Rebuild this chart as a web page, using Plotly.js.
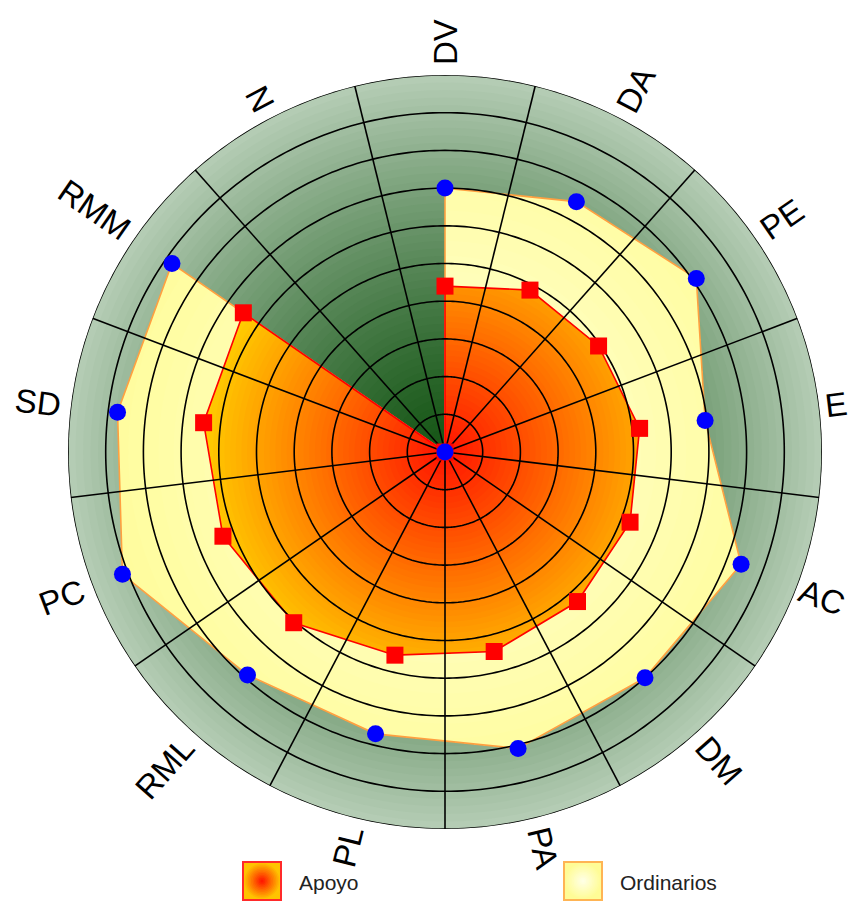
<!DOCTYPE html>
<html>
<head>
<meta charset="utf-8">
<script src="https://cdn.plot.ly/plotly-3.0.1.min.js"></script>
<style>html,body{margin:0;padding:0;background:#fff}#chart{width:850px;height:902px}</style>
</head>
<body>
<div id="chart"></div>
<script>
// ---- data ----
const categories = ['DV','DA','PE','E','AC','DM','PA','PL','RML','PC','SD','RMM','N'];
const ordinarios = [70, 75, 81, 69.5, 84, 80, 81, 77, 79, 91.5, 87.5, 88, 0];
const apoyo      = [44, 48.5, 49.5, 52, 52.5, 53, 54.5, 55.5, 60.5, 63, 64.5, 65, 0];
const radialTicks = [10, 20, 30, 40, 50, 60, 70, 80, 90, 100];
const seriesNames = ['Apoyo', 'Ordinarios'];

// ---- layout geometry ----
const W = 850, H = 902, CX = 445, CY = 452, R = 377;
const RMAX = 100;
const n = categories.length;
const step = 360 / n;
const thetas = categories.map((c, i) => i * step);
const rad = d => d * Math.PI / 180;
const rgb = (c) => 'rgb(' + c.map(v => Math.round(v)).join(',') + ')';
const lerp = (a, b, t) => a.map((v, i) => v + (b[i] - v) * t);

function greenAt(t) { return rgb(lerp([22, 86, 22], [182, 206, 182], Math.pow(t, 1.3))); }
function orangeAt(r) { return rgb([255, Math.min(205, 18 + 2.9 * r), 0]); }
function yellowAt(r) { return rgb(lerp([255, 255, 215], [255, 252, 150], r / RMAX)); }

// boundary of the data polygon clipped by a circle of radius L (polar coords)
function clipped(vals, L, sub) {
  const th = [], rr = [];
  for (let i = 0; i < n; i++) {
    const ta = thetas[i], tb = ta + step, ra = vals[i], rb = vals[(i + 1) % n];
    for (let k = 0; k < sub; k++) {
      const t = ta + step * k / sub;
      let r;
      if (k === 0) r = ra;
      else if (ra === 0 || rb === 0) r = 0;
      else r = ra * rb * Math.sin(rad(step)) / (ra * Math.sin(rad(t - ta)) + rb * Math.sin(rad(tb - t)));
      th.push(t); rr.push(Math.min(r, L));
    }
  }
  th.push(360); rr.push(Math.min(vals[0], L));
  return { th, rr };
}

const traces = [];
const base = { type: 'scatterpolar', hoverinfo: 'skip', showlegend: false };

// background radial gradient (green)
const NB = 50;
const circTh = []; for (let a = 0; a <= 360; a += 1) circTh.push(a);
for (let k = NB; k >= 1; k--) {
  const L = RMAX * k / NB;
  traces.push(Object.assign({}, base, {
    r: circTh.map(() => L), theta: circTh, mode: 'lines', fill: 'toself',
    fillcolor: greenAt((k - 0.5) / NB), line: { width: 0, color: 'rgba(0,0,0,0)' }
  }));
}

// Ordinarios fill (light yellow gradient)
for (let L = RMAX; L >= 4; L -= 4) {
  const b = clipped(ordinarios, L, 60);
  traces.push(Object.assign({}, base, {
    r: b.rr, theta: b.th, mode: 'lines', fill: 'toself',
    fillcolor: yellowAt(L - 2), line: { width: 0, color: 'rgba(0,0,0,0)' }
  }));
}
traces.push(Object.assign({}, base, {
  r: ordinarios.concat([ordinarios[0]]), theta: thetas.concat([360]), mode: 'lines',
  line: { color: '#ffa040', width: 1.6 }
}));

// Apoyo fill (red -> orange radial gradient)
const amax = Math.max.apply(null, apoyo);
for (let L = Math.ceil(amax) + 1; L >= 1.5; L -= 1.5) {
  const b = clipped(apoyo, L, 60);
  traces.push(Object.assign({}, base, {
    r: b.rr, theta: b.th, mode: 'lines', fill: 'toself',
    fillcolor: orangeAt(L - 0.75), line: { width: 0, color: 'rgba(0,0,0,0)' }
  }));
}
traces.push(Object.assign({}, base, {
  r: apoyo.concat([apoyo[0]]), theta: thetas.concat([360]), mode: 'lines',
  line: { color: '#ff0000', width: 1.6 }
}));

// grid rings
const ringR = [], ringT = [];
radialTicks.forEach(v => { circTh.forEach(a => { ringR.push(v); ringT.push(a); }); ringR.push(null); ringT.push(null); });
traces.push(Object.assign({}, base, { r: ringR, theta: ringT, mode: 'lines', connectgaps: false,
  line: { color: '#000', width: 1.6 } }));
// spokes (between categories)
const spR = [], spT = [];
thetas.forEach(t => { spR.push(0, RMAX, null); spT.push(t + step / 2, t + step / 2, null); });
traces.push(Object.assign({}, base, { r: spR, theta: spT, mode: 'lines', connectgaps: false,
  line: { color: '#000', width: 1.6 } }));

// markers
traces.push({ type: 'scatterpolar', name: seriesNames[0], r: apoyo, theta: thetas, mode: 'markers',
  marker: { symbol: 'square', size: 17, color: '#ff0000' }, showlegend: false });
traces.push({ type: 'scatterpolar', name: seriesNames[1], r: ordinarios, theta: thetas, mode: 'markers',
  marker: { symbol: 'circle', size: 17, color: '#0000ff' }, showlegend: false });

// angular labels as rotated annotations
const cv = document.createElement('canvas').getContext('2d');
const LABEL_SIZE = 33;
cv.font = LABEL_SIZE + 'px "Liberation Sans", Arial, sans-serif';
const annotations = categories.map((c, i) => {
  const t = thetas[i];
  const w = cv.measureText(c).width;
  const d = R + 10 + w / 2;
  let x = CX + d * Math.sin(rad(t));
  const y = CY - d * Math.cos(rad(t));
  const ang = t <= 180 ? t - 90 : t - 270;
  // keep the rotated glyph box inside the page
  const hcap = LABEL_SIZE * 0.74;
  const halfW = (w * Math.abs(Math.cos(rad(ang))) + hcap * Math.abs(Math.sin(rad(ang)))) / 2;
  if (x + halfW > W - 2) x = W - 2 - halfW;
  if (x - halfW < 2) x = 2 + halfW;
  return { text: c, x: x / W, y: 1 - y / H, xref: 'paper', yref: 'paper', showarrow: false,
    xanchor: 'center', yanchor: 'middle', textangle: ang,
    font: { family: '"Liberation Sans", Arial, sans-serif', size: LABEL_SIZE, color: '#000' } };
});

// custom legend
const shapes = [];
function swatch(x0, y0, s, edge, colorFn, border) {
  shapes.push({ type: 'rect', xref: 'paper', yref: 'paper', x0: x0 / W, x1: (x0 + s) / W,
    y0: 1 - (y0 + s) / H, y1: 1 - y0 / H, fillcolor: edge, line: { width: 0 } });
  const cx = x0 + s / 2, cy = y0 + s / 2;
  for (let k = 12; k >= 1; k--) {
    const rr = (s / 2) * k / 12;
    shapes.push({ type: 'circle', xref: 'paper', yref: 'paper', x0: (cx - rr) / W, x1: (cx + rr) / W,
      y0: 1 - (cy + rr) / H, y1: 1 - (cy - rr) / H, fillcolor: colorFn(k / 12), line: { width: 0 } });
  }
  shapes.push({ type: 'rect', xref: 'paper', yref: 'paper', x0: x0 / W, x1: (x0 + s) / W,
    y0: 1 - (y0 + s) / H, y1: 1 - y0 / H, fillcolor: 'rgba(0,0,0,0)', line: { width: 2, color: border } });
}
swatch(243, 862, 38, 'rgb(255,196,0)', f => rgb([255, 10 + 185 * f, 0]), '#ff2a2a');
swatch(564, 862, 38, 'rgb(255,252,150)', f => rgb(lerp([255, 255, 235], [255, 252, 150], f)), '#ffb454');
annotations.push({ text: seriesNames[0], x: 297 / W, y: 1 - 882 / H, xref: 'paper', yref: 'paper',
  showarrow: false, xanchor: 'left', yanchor: 'middle',
  font: { family: '"Liberation Sans", Arial, sans-serif', size: 21, color: '#222' } });
annotations.push({ text: seriesNames[1], x: 618 / W, y: 1 - 882 / H, xref: 'paper', yref: 'paper',
  showarrow: false, xanchor: 'left', yanchor: 'middle',
  font: { family: '"Liberation Sans", Arial, sans-serif', size: 21, color: '#222' } });

const axisOff = { showgrid: false, showline: false, showticklabels: false, ticks: '' };
const layout = {
  width: W, height: H, margin: { l: 0, r: 0, t: 0, b: 0 },
  paper_bgcolor: '#fff', showlegend: false, dragmode: false,
  polar: {
    domain: { x: [(CX - R) / W, (CX + R) / W], y: [1 - (CY + R) / H, 1 - (CY - R) / H] },
    bgcolor: 'rgba(0,0,0,0)',
    radialaxis: Object.assign({ range: [0, RMAX], type: 'linear' }, axisOff),
    angularaxis: Object.assign({ type: 'linear', thetaunit: 'degrees', direction: 'clockwise', rotation: 90 }, axisOff)
  },
  annotations: annotations, shapes: shapes
};
Plotly.newPlot('chart', traces, layout, { staticPlot: true, displayModeBar: false });
</script>
</body>
</html>
